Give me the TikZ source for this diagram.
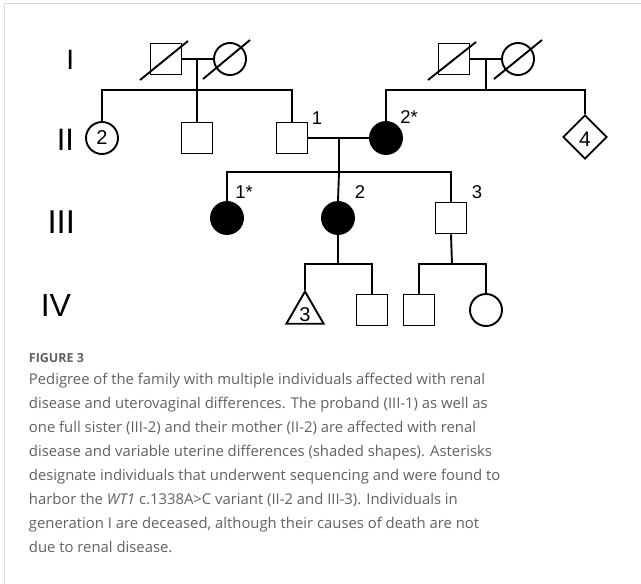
\documentclass[tikz,border=0pt]{standalone}
\usepackage{fontspec}
\setmainfont{Liberation Sans}
\newfontfamily\capfont{Open Sans}
\usetikzlibrary{shapes.geometric,calc}
\definecolor{framegray}{HTML}{D9D9D9}
\definecolor{captext}{HTML}{616161}
\begin{document}
\begin{tikzpicture}[x=1pt,y=-1pt,line width=1.9pt,
  male/.style={draw,rectangle,minimum size=31pt,inner sep=0pt},
  female/.style={draw,circle,minimum size=32pt,inner sep=0pt},
  affected/.style={fill=black},
  unknown/.style={draw,diamond,minimum width=44pt,minimum height=44pt,inner sep=0pt,aspect=1},
  preg/.style={draw,regular polygon,regular polygon sides=3,minimum size=43pt,inner sep=0pt},
  inlbl/.style={font=\fontsize{20}{20}\selectfont,inner sep=0pt},
  lbl/.style={font=\fontsize{18.5}{18.5}\selectfont,inner sep=0pt},
  gen/.style={anchor=east,inner sep=0pt},
  capline/.style={anchor=base west,inner sep=0pt,text=captext,font=\capfont\fontsize{14.85}{14.85}\selectfont}]
\useasboundingbox (0,0) rectangle (641,584);
\draw[framegray,line width=1pt] (4,584) -- (4,3.5) -- (641,3.5);

% generation labels
\node[gen,font=\fontsize{28}{28}\selectfont] (gI) at (75,59.5) {I};
\node[gen,font=\fontsize{31}{31}\selectfont] (gII) at (75,139.5) {II};
\node[gen,font=\fontsize{33}{33}\selectfont] (gIII) at (76,222.5) {III};
\node[gen,font=\fontsize{32}{32}\selectfont] (gIV) at (72,305.5) {IV};

% generation I
\node[male] (i1) at (166,59) {};
\node[female] (i2) at (230,59) {};
\node[male] (i3) at (454,59) {};
\node[female] (i4) at (518,59) {};
\draw ($(i1)+(-26,21)$) -- ($(i1)+(22,-18)$);
\draw ($(i2)+(-27,20)$) -- ($(i2)+(20,-19)$);
\draw ($(i3)+(-26,21)$) -- ($(i3)+(22,-17)$);
\draw ($(i4)+(-24,20)$) -- ($(i4)+(24,-19)$);

% generation II
\node[female] (ii2) at (102,138) {};
\node[inlbl] at (ii2) {2};
\node[male] (ii3) at (197,138) {};
\node[male] (ii4) at (292,138) {};
\node[female,affected] (ii5) at (386,138) {};
\node[unknown] (ii6) at (585,137) {};
\node[inlbl,font=\fontsize{21}{21}\selectfont] at (585,139) {4};
\node[lbl] (l24) at (317,118) {1};
\node[lbl] (l25) at (409,117) {2*};

% generation III
\node[female,affected] (iii1) at (227,218) {};
\node[female,affected] (iii2) at (338,218) {};
\node[male] (iii3) at (451,218) {};
\node[lbl] (l31) at (244,192) {1*};
\node[lbl] (l32) at (360,192) {2};
\node[lbl] (l33) at (477,192) {3};

% generation IV
\node[preg] (iv1) at (305,313) {};
\node[inlbl] at (305,315) {3};
\node[male] (iv2) at (372,310) {};
\node[male] (iv3) at (419,310) {};
\node[female] (iv4) at (486,310) {};

% connectors
\coordinate (m1) at (197,59);
\coordinate (s1) at (197,90);
\draw (i1.east) -- (i2.west);
\draw (m1) -- (s1);
\draw (ii2.north) |- (s1) -| (ii4.north);
\draw (s1) -- (ii3.north);

\coordinate (m2) at (486,59);
\coordinate (s2) at (486,90);
\draw (i3.east) -- (i4.west);
\draw (m2) -- (s2);
\draw (ii5.north) |- (s2) -| (ii6.north);

\coordinate (m3) at (339,139);
\coordinate (s3) at (339,172);
\draw (ii4.east) -- (ii5.west);
\draw (m3) -- (s3);
\draw (iii1.north) |- (s3) -| (iii3.north);
\draw (s3) -- (iii2.north);

\coordinate (s4) at (338,264);
\draw (iii2.south) -- (s4);
\draw (iv1.corner 1) |- (s4) -| (iv2.north);

\coordinate (s5) at (452,264);
\draw (iii3.south) -- (s5);
\draw (iv3.north) |- (s5) -| (iv4.north);

% caption
\node[anchor=base west,inner sep=0pt,text=captext,font=\capfont\bfseries\fontsize{12.5}{12.5}\selectfont] (fig) at (28,362) {FIGURE 3};
\node[capline] (c1) at (28,384) {Pedigree of the family with multiple individuals affected with renal};
\node[capline] (c2) at (28,408) {disease and uterovaginal differences. The proband (III-1) as well as};
\node[capline] (c3) at (28,432) {one full sister (III-2) and their mother (II-2) are affected with renal};
\node[capline] (c4) at (28,456) {disease and variable uterine differences (shaded shapes). Asterisks};
\node[capline] (c5) at (28,480) {designate individuals that underwent sequencing and were found to};
\node[capline] (c6) at (28,504) {harbor the \textit{WT1} c.1338A>C variant (II-2 and III-3). Individuals in};
\node[capline] (c7) at (28,528) {generation I are deceased, although their causes of death are not};
\node[capline] (c8) at (28,552) {due to renal disease.};
\end{tikzpicture}
\end{document}
